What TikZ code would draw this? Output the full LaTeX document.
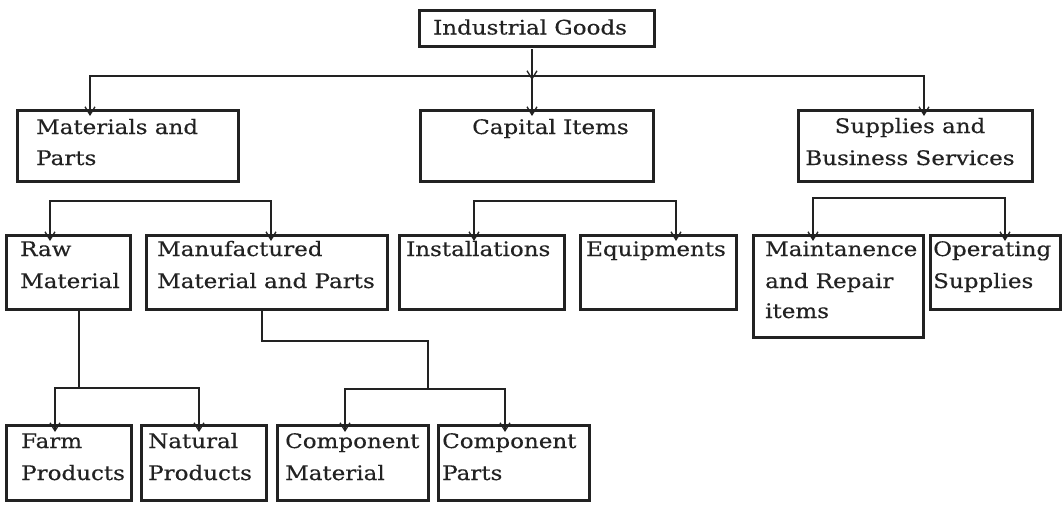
\documentclass[tikz,border=0pt]{standalone}
\usepackage{fontspec}
\setmainfont[FakeStretch=1.15,FakeBold=0.4]{DejaVu Serif}
\usetikzlibrary{arrows.meta}
\definecolor{ink}{HTML}{222222}
\tikzset{
  box/.style={draw=ink, line width=2.6pt, rectangle, inner sep=0pt, anchor=north west},
  txt/.style={inner sep=0pt, anchor=base west, text=ink, font=\fontsize{20}{24}\selectfont},
  ctxt/.style={txt, anchor=base},
  bar/.style={draw=ink, line width=2.4pt, line cap=rect},
  arr/.style={draw=ink, line width=1.3pt, -{Straight Barb[length=8pt,width=10pt,line width=1.3pt]}}
}
\begin{document}
\begin{tikzpicture}[x=1pt,y=-1pt]
\useasboundingbox[fill=white] (0,0) rectangle (1062,522);
% boxes
\node[box, minimum width=235pt, minimum height=36pt] (ig) at (418,9) {};
\node[box, minimum width=221pt, minimum height=71pt] (mp) at (16,109) {};
\node[box, minimum width=233pt, minimum height=71pt] (ci) at (419,109) {};
\node[box, minimum width=234pt, minimum height=71pt] (sb) at (797,109) {};
\node[box, minimum width=124pt, minimum height=74pt] (rm) at (5,234) {};
\node[box, minimum width=241pt, minimum height=74pt] (mm) at (145,234) {};
\node[box, minimum width=165pt, minimum height=74pt] (in) at (398,234) {};
\node[box, minimum width=156pt, minimum height=74pt] (eq) at (579,234) {};
\node[box, minimum width=170pt, minimum height=102pt] (mr) at (752,234) {};
\node[box, minimum width=130pt, minimum height=74pt] (os) at (929,234) {};
\node[box, minimum width=125pt, minimum height=75pt] (fp) at (5,424) {};
\node[box, minimum width=125pt, minimum height=75pt] (np) at (140,424) {};
\node[box, minimum width=151pt, minimum height=75pt] (cm) at (276,424) {};
\node[box, minimum width=151pt, minimum height=75pt] (cp) at (437,424) {};
% texts
\node[txt] (t-ig) at (433,34.5) {Industrial Goods};
\node[txt] (t-mp1) at (36,134) {Materials and};
\node[txt] (t-mp2) at (36,165) {Parts};
\node[txt] (t-ci) at (472,134) {Capital Items};
\node[ctxt] (t-sb1) at (910,133) {Supplies and};
\node[ctxt] (t-sb2) at (910,165) {Business Services};
\node[txt] (t-rm1) at (20,256) {Raw};
\node[txt] (t-rm2) at (20,288) {Material};
\node[txt] (t-mm1) at (157,256) {Manufactured};
\node[txt] (t-mm2) at (157,288) {Material and Parts};
\node[txt] (t-in) at (406,256) {Installations};
\node[txt] (t-eq) at (586,256) {Equipments};
\node[txt] (t-mr1) at (765,256) {Maintanence};
\node[txt] (t-mr2) at (765,288) {and Repair};
\node[txt] (t-mr3) at (765,318) {items};
\node[txt] (t-os1) at (933,256) {Operating};
\node[txt] (t-os2) at (933,288) {Supplies};
\node[txt] (t-fp1) at (21,448) {Farm};
\node[txt] (t-fp2) at (21,480) {Products};
\node[txt] (t-np1) at (148,448) {Natural};
\node[txt] (t-np2) at (148,480) {Products};
\node[txt] (t-cm1) at (285,448) {Component};
\node[txt] (t-cm2) at (285,480) {Material};
\node[txt] (t-cp1) at (442,448) {Component};
\node[txt] (t-cp2) at (442,480) {Parts};
% level 1 connectors
\coordinate (j1) at (532,76);
\coordinate (l1a) at (90,76);
\coordinate (l1c) at (924,76);
\draw[arr] (ig.south -| j1) ++(0,1.5) -- ([yshift=-4pt]j1);
\draw[bar] (l1a) -- (l1c);
\draw[arr] (l1a) -- ([yshift=-7pt]mp.north -| l1a);
\draw[arr] (j1) -- ([yshift=-7pt]ci.north -| j1);
\draw[arr] (l1c) -- ([yshift=-7pt]sb.north -| l1c);
% level 2 connectors
\coordinate (m1) at (50,201);
\coordinate (m2) at (271,201);
\draw[bar] (m1) -- (m2);
\draw[arr] (m1) -- ([yshift=-7pt]rm.north -| m1);
\draw[arr] (m2) -- ([yshift=-7pt]mm.north -| m2);
\coordinate (c1) at (474,201);
\coordinate (c2) at (676,201);
\draw[bar] (c1) -- (c2);
\draw[arr] (c1) -- ([yshift=-7pt]in.north -| c1);
\draw[arr] (c2) -- ([yshift=-7pt]eq.north -| c2);
\coordinate (s1) at (813,198);
\coordinate (s2) at (1005,198);
\draw[bar] (s1) -- (s2);
\draw[arr] (s1) -- ([yshift=-7pt]mr.north -| s1);
\draw[arr] (s2) -- ([yshift=-7pt]os.north -| s2);
% level 3 connectors
\coordinate (rj) at (79,388);
\coordinate (r1) at (55,388);
\coordinate (r2) at (199,388);
\draw[bar] (rm.south -| rj) -- (rj);
\draw[bar] (r1) -- (r2);
\draw[arr] (r1) -- ([yshift=-8pt]fp.north -| r1);
\draw[arr] (r2) -- ([yshift=-8pt]np.north -| r2);
\coordinate (mk) at (262,341);
\coordinate (mj) at (428,389);
\coordinate (k1) at (345,389);
\coordinate (k2) at (505,389);
\draw[bar] (mm.south -| mk) -- (mk) -| (mj);
\draw[bar] (k1) -- (k2);
\draw[arr] (k1) -- ([yshift=-8pt]cm.north -| k1);
\draw[arr] (k2) -- ([yshift=-8pt]cp.north -| k2);
\end{tikzpicture}
\end{document}
